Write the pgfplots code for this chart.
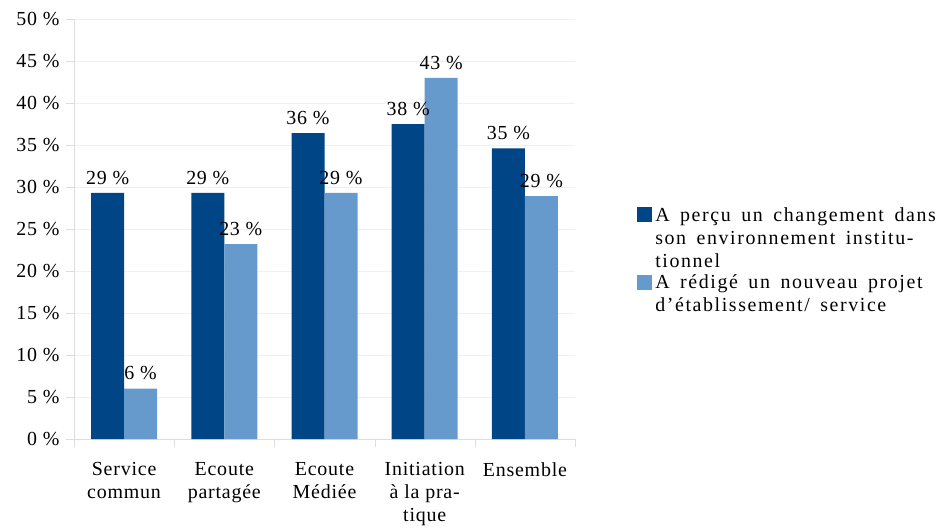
\documentclass[border=0pt]{standalone}
\usepackage{pgfplots}
\pgfplotsset{compat=1.18}
\usepackage{fontspec}
\setmainfont[LetterSpace=4]{Liberation Serif}
\newfontfamily\legfont[LetterSpace=8,WordSpace=1.6]{Liberation Serif}
\definecolor{dk}{HTML}{004586}
\definecolor{lt}{HTML}{6699CC}
\definecolor{axgray}{HTML}{DDDDDD}
\definecolor{gridgray}{HTML}{F0F0F0}
\newcommand\fs{\fontsize{20}{23}\selectfont}
\begin{document}
\begin{tikzpicture}[font=\fs]
\useasboundingbox (-74bp,-91bp) rectangle (868bp,439bp);
\begin{axis}[
  scale only axis, width=501bp, height=420bp,
  at={(0,0)}, anchor=south west,
  ybar=0pt, bar width=33bp,
  xmin=-0.5, xmax=4.5, ymin=0, ymax=50,
  axis lines=left, axis line style={draw=axgray, -},
  xtick={0,...,4},
  xticklabels={{Service\\commun},{Ecoute\\partagée},{Ecoute\\Médiée},{Initiation\\à la pra-\\tique},{Ensemble}},
  x tick label style={align=center, anchor=north, yshift=-12bp, font=\fs},
  major x tick style={draw=none},
  minor xtick={-0.5,0.5,...,4.5},
  minor x tick style={draw=axgray},
  minor tick length=8bp,
  tick align=outside,
  ytick={0,5,...,50},
  major tick length=8bp,
  y tick style={draw=axgray},
  yticklabel={\pgfmathprintnumber{\tick}~\%},
  /pgf/number format/assume math mode=true,
  y tick label style={font=\fs, xshift=-3bp},
  ymajorgrids, grid style={draw=gridgray},
  point meta=explicit symbolic,
  nodes near coords,
  every node near coord/.append style={font=\fs, black, yshift=5bp},
  clip=false,
  legend style={at={(rel axis cs:1.118,0.56)}, anchor=north west, draw=none, fill=none,
    font=\fs\legfont, row sep=2bp, column sep=1bp,
    cells={anchor=north west, align=left}},
  legend cell align=left,
]
\addplot[fill=dk, draw=none,
  legend image code/.code={\fill[dk] (0bp,17bp) rectangle (15bp,32bp);}]
  coordinates {(0,29.3) [29 \%] (1,29.3) [29 \%] (2,36.4) [36 \%] (3,37.5) [38 \%] (4,34.6) [35 \%]};
\addplot[fill=lt, draw=none,
  legend image code/.code={\fill[lt] (0bp,4bp) rectangle (15bp,19bp);}]
  coordinates {(0,6.0) [6 \%] (1,23.2) [23 \%] (2,29.3) [29 \%] (3,43.0) [43 \%] (4,28.9) [29 \%]};
\legend{{A perçu un changement dans\\son environnement institu-\\tionnel},{A rédigé un nouveau projet\\d’établissement/ service}}
\end{axis}
\end{tikzpicture}
\end{document}
